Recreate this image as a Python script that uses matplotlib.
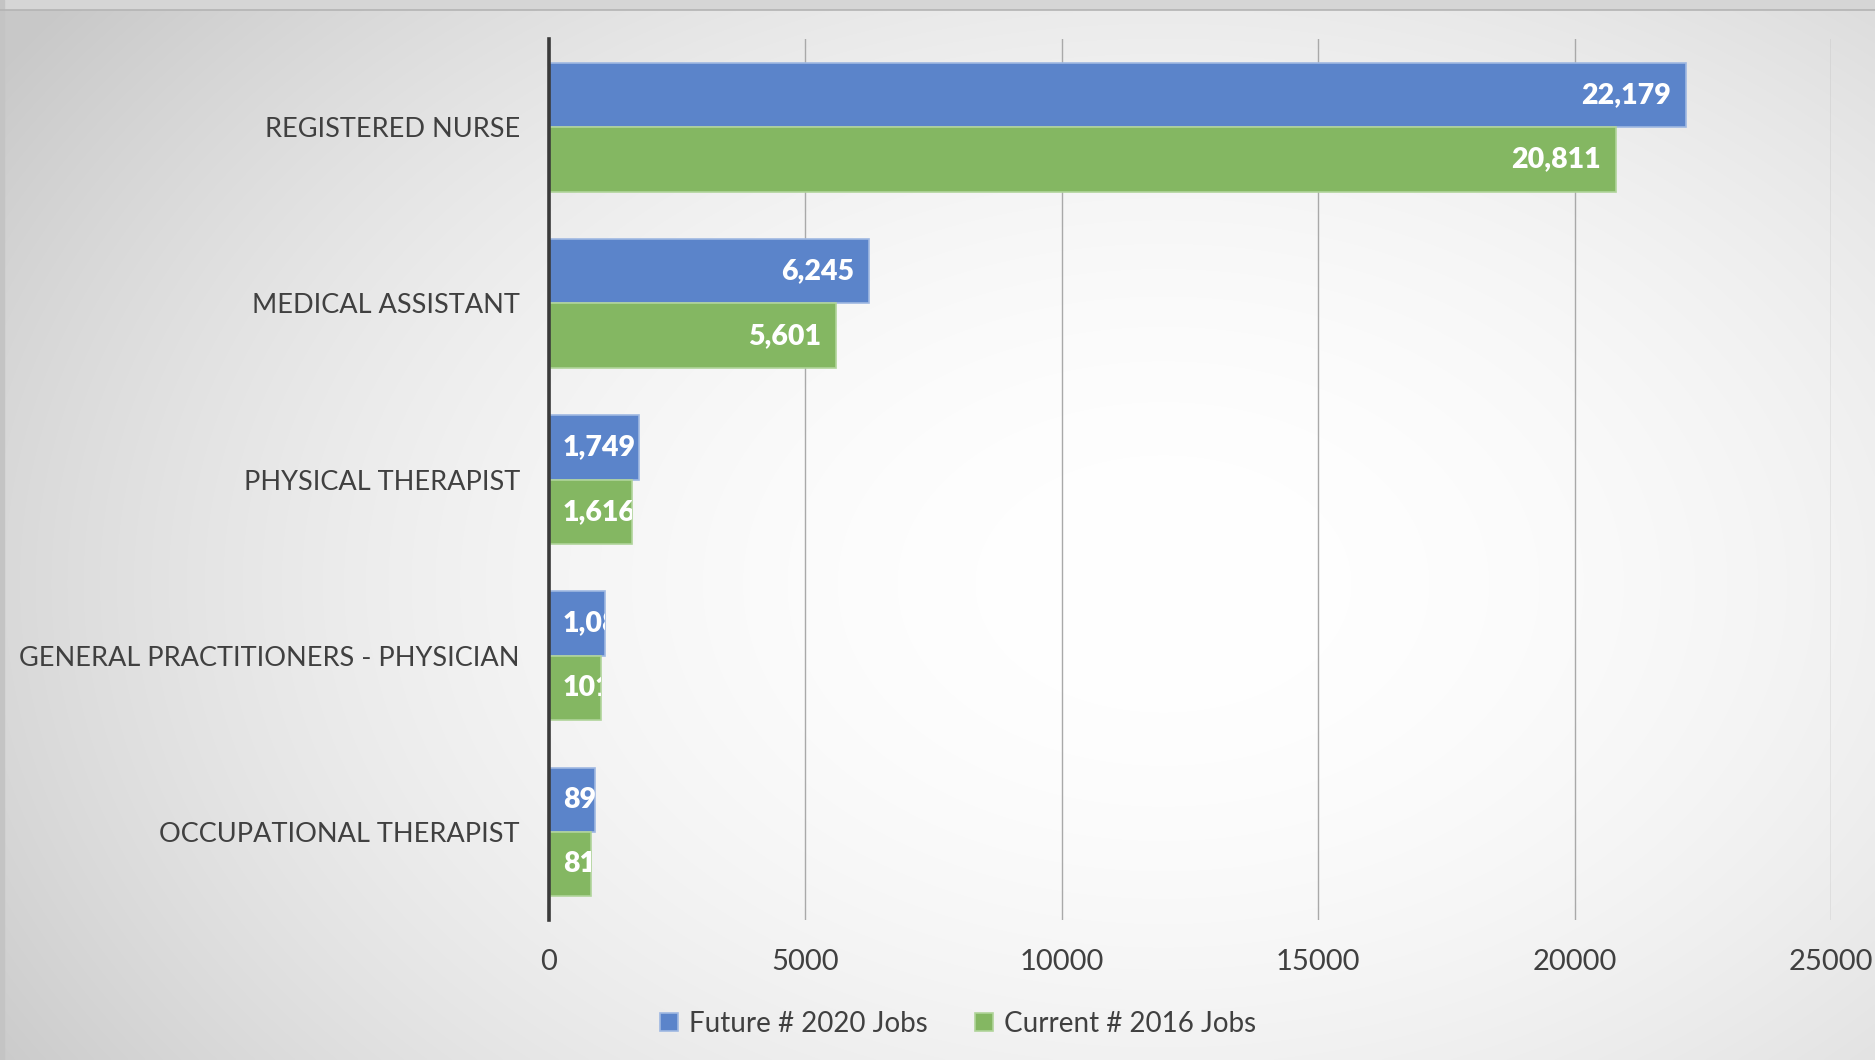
import numpy as np
import matplotlib
matplotlib.use("Agg")
import matplotlib.pyplot as plt
from matplotlib.patches import Rectangle

categories = ["REGISTERED NURSE", "MEDICAL ASSISTANT", "PHYSICAL THERAPIST",
              "GENERAL PRACTITIONERS - PHYSICIAN", "OCCUPATIONAL THERAPIST"]
future_2020 = [22179, 6245, 1749, 1087, 893]
current_2016 = [20811, 5601, 1616, 1012, 814]
future_labels = ["22,179", "6,245", "1,749", "1,087", "893"]
current_labels = ["20,811", "5,601", "1,616", "1012", "814"]
series_names = ["Future # 2020 Jobs", "Current # 2016 Jobs"]
x_ticks = [0, 5000, 10000, 15000, 20000, 25000]

FONT = ["Lato", "DejaVu Sans"]
plt.rcParams["font.family"] = FONT

fig = plt.figure(figsize=(18.75, 10.6), dpi=100)

# background radial gradient
bg = fig.add_axes([0, 0, 1, 1], zorder=-10)
H, W = 530, 938
yy, xx = np.mgrid[0:H, 0:W]
cx, cy = 0.62 * W, 0.55 * H
r2 = ((xx - cx) / (0.62 * W)) ** 2 + ((yy - cy) / (0.75 * H)) ** 2
val = np.clip(1.0 - 0.15 * r2, 0.785, 1.0)
img = np.dstack([val, val, val])
bg.imshow(img, aspect="auto", extent=[0, 1, 0, 1], origin="upper", interpolation="bilinear")
bg.add_patch(Rectangle((0, 1 - 9 / 1060), 1, 9 / 1060, color="#d6d6d6", transform=bg.transAxes))
bg.plot([0, 1], [1 - 9.5 / 1060] * 2, color="#b4b4b4", lw=1.2, transform=bg.transAxes)
bg.add_patch(Rectangle((0, 0), 4 / 1875, 1, color="#c4c4c4", transform=bg.transAxes))
bg.set_xlim(0, 1); bg.set_ylim(0, 1)
bg.axis("off")

ax = fig.add_axes([0.2928, 0.132, 0.9766 - 0.2928, 0.963 - 0.132])
ax.patch.set_alpha(0)

y = np.arange(len(categories))
h = 0.366
blue, green = "#5b84ca", "#84b762"
b1 = ax.barh(y - h / 2, future_2020, height=h, color=blue, edgecolor="#9fb8e2", lw=1.2,
             label=series_names[0], zorder=3)
b2 = ax.barh(y + h / 2, current_2016, height=h, color=green, edgecolor="#b0d49a", lw=1.2,
             label=series_names[1], zorder=3)

for bars, labels in ((b1, future_labels), (b2, current_labels)):
    for bar, lab in zip(bars, labels):
        w = bar.get_width()
        yc = bar.get_y() + bar.get_height() / 2
        if w > 3000:
            t = ax.annotate(lab, (w, yc), xytext=(-11, 0), textcoords="offset points",
                            ha="right", va="center", color="white", fontsize=20.5,
                            fontweight="heavy", zorder=5)
        else:
            t = ax.annotate(lab, (0, yc), xytext=(10, 0), textcoords="offset points",
                            ha="left", va="center", color="white", fontsize=20.5,
                            fontweight="heavy", zorder=5)
            t.set_clip_path(bar)

ax.set_ylim(len(categories) - 0.5, -0.5)
ax.set_xlim(0, 25000)
ax.set_xticks(x_ticks)
ax.set_xticklabels([str(v) for v in x_ticks])
ax.set_yticks(y)
ax.set_yticklabels(categories)
ax.tick_params(axis="both", length=0, colors="#404040")
ax.tick_params(axis="x", pad=21, labelsize=21)
ax.tick_params(axis="y", pad=21, labelsize=19.5)
ax.grid(axis="x", color="#a9a9a9", lw=1.0, zorder=0)
for s in ["top", "right", "bottom"]:
    ax.spines[s].set_visible(False)
ax.spines["left"].set_color("#3a3a3a")
ax.spines["left"].set_linewidth(2.6)
ax.spines["left"].set_zorder(6)

leg = fig.legend(handles=[b1, b2], labels=series_names, loc="center",
                 bbox_to_anchor=(0.511, 0.034), ncol=2, frameon=False,
                 fontsize=20, handlelength=0.65, handleheight=0.65,
                 handletextpad=0.4, columnspacing=1.7)
for t in leg.get_texts():
    t.set_color("#404040")

fig.savefig("out.png", dpi=100)
